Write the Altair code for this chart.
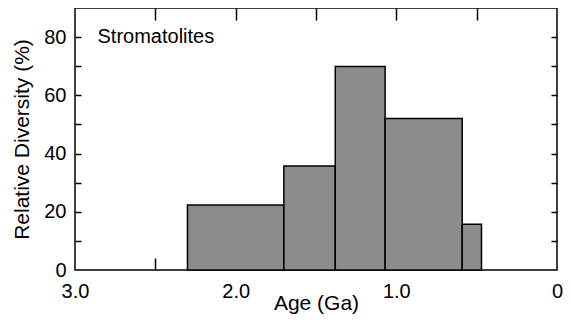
import altair as alt
import pandas as pd

# Data
age_start = [2.3, 1.7, 1.38, 1.07, 0.59]
age_end = [1.7, 1.38, 1.07, 0.59, 0.47]
diversity = [22.3, 35.7, 69.9, 52.0, 15.7]

x_label_values = [0, 1, 2, 3]
x_tick_values = [0.5, 1.0, 1.5, 2.0, 2.5]
y_label_values = [0, 20, 40, 60, 80]
y_tick_values = [10, 20, 30, 40, 50, 60, 70, 80]

df = pd.DataFrame({"start": age_start, "end": age_end, "div": diversity})

W, H = 482, 262
FONT = "Liberation Sans"

xscale = alt.Scale(domain=[0, 3], reverse=True, nice=False, zero=False)
yscale = alt.Scale(domain=[0, 90], nice=False)

base = alt.Chart(df)

bars = base.mark_bar(
    fill="#8c8c8c", stroke="black", strokeWidth=1.5
).encode(
    x=alt.X("start:Q", scale=xscale, axis=alt.Axis(
        values=x_label_values,
        labelExpr="datum.value == 0 ? '0' : format(datum.value, '.1f')",
        ticks=False, tickSize=0, domain=False, grid=False,
        labelFont=FONT, labelFontSize=20, labelColor="black",
        labelPadding=11, labelFlush=False, labelOverlap=False, labelBound=False,
        title="Age (Ga)", titleFont=FONT, titleFontSize=21, titleFontWeight="normal",
        titleColor="black", titleBaseline="alphabetic", titleY=39,
    )),
    x2="end:Q",
    y=alt.Y("div:Q", scale=yscale, axis=alt.Axis(
        values=y_label_values,
        ticks=False, tickSize=0, domain=False, grid=False,
        labelFont=FONT, labelFontSize=20, labelColor="black",
        labelPadding=9, labelFlush=False, labelOverlap=False,
        title="Relative Diversity (%)", titleFont=FONT, titleFontSize=21,
        titleFontWeight="normal", titleColor="black",
        titleBaseline="alphabetic", titleX=-47, titleAngle=-90,
    )),
    y2=alt.Y2(datum=0),
)

def tick_layer(x_orient, y_orient):
    return base.mark_bar(opacity=0).encode(
        x=alt.X("start:Q", scale=xscale, axis=alt.Axis(
            orient=x_orient, offset=-H, values=x_tick_values,
            labels=False, domain=False, grid=False, title=None,
            ticks=True, tickSize=12, tickWidth=1.5, tickColor="black",
        )),
        x2="end:Q",
        y=alt.Y("div:Q", scale=yscale, axis=alt.Axis(
            orient=y_orient, offset=-W, values=y_tick_values,
            labels=False, domain=False, grid=False, title=None,
            ticks=True, tickSize=6, tickWidth=1.5, tickColor="black",
        )),
        y2=alt.Y2(datum=0),
    )

ticks_a = tick_layer("top", "right")   # bottom edge & left edge, pointing inward
ticks_b = tick_layer("bottom", "left")  # top edge & right edge, pointing inward

label = alt.Chart(pd.DataFrame({"t": ["Stromatolites"]})).mark_text(
    align="left", baseline="alphabetic", font=FONT, fontSize=20, color="black"
).encode(text="t:N", x=alt.value(22.5), y=alt.value(34.5))

chart = alt.layer(bars, ticks_a, ticks_b, label).resolve_axis(
    x="independent", y="independent"
).properties(
    width=W, height=H,
    autosize=alt.AutoSizeParams(type="none"),
    padding={"left": 67, "top": 0, "right": 6, "bottom": 44},
).configure_view(stroke="black", strokeWidth=1.5)

chart.save("out.html", embed_options={"renderer": "svg", "actions": False})
